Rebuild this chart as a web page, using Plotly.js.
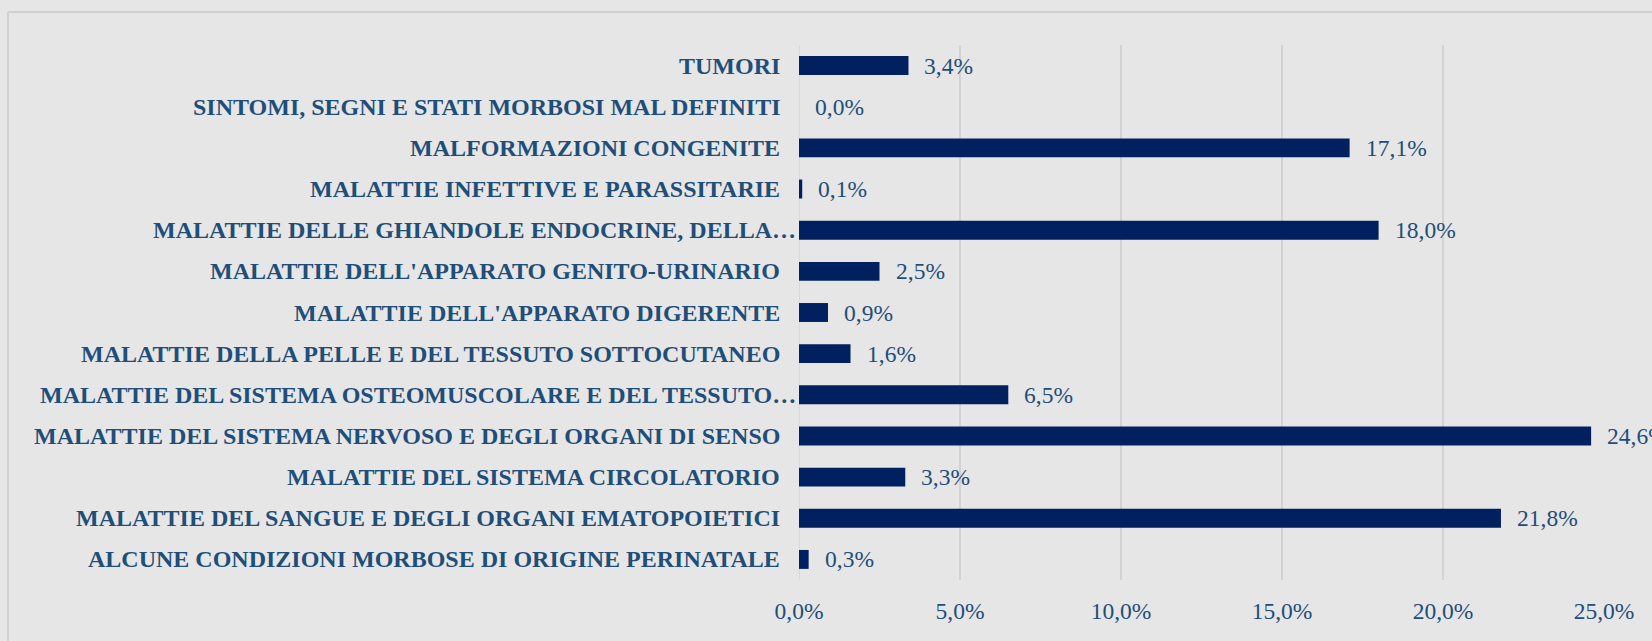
<!DOCTYPE html>
<html>
<head>
<meta charset="utf-8">
<script src="https://cdn.plot.ly/plotly-3.0.1.min.js"></script>
<style>
html,body{margin:0;padding:0;background:#e6e6e6;}
#chart{width:1652px;height:641px;}
</style>
</head>
<body>
<div id="chart"></div>
<script>
// Categories listed bottom -> top
const categories = [
  "ALCUNE CONDIZIONI MORBOSE DI ORIGINE PERINATALE",
  "MALATTIE DEL SANGUE E DEGLI ORGANI EMATOPOIETICI",
  "MALATTIE DEL SISTEMA CIRCOLATORIO",
  "MALATTIE DEL SISTEMA NERVOSO E DEGLI ORGANI DI SENSO",
  "MALATTIE DEL SISTEMA OSTEOMUSCOLARE E DEL TESSUTO…",
  "MALATTIE DELLA PELLE E DEL TESSUTO SOTTOCUTANEO",
  "MALATTIE DELL'APPARATO DIGERENTE",
  "MALATTIE DELL'APPARATO GENITO-URINARIO",
  "MALATTIE DELLE GHIANDOLE ENDOCRINE, DELLA…",
  "MALATTIE INFETTIVE E PARASSITARIE",
  "MALFORMAZIONI CONGENITE",
  "SINTOMI, SEGNI E STATI MORBOSI MAL DEFINITI",
  "TUMORI"
];
const values = [0.003, 0.218, 0.033, 0.246, 0.065, 0.016, 0.009, 0.025, 0.180, 0.001, 0.171, 0.000, 0.034];
const xTicks = [0, 0.05, 0.10, 0.15, 0.20, 0.25];

const labelColor = "#1F4E79";
const barColor = "#002060";
const serif = "Liberation Serif, Times New Roman, serif";

const trace = {
  type: "bar",
  orientation: "h",
  x: values,
  y: categories,
  marker: {color: barColor},
  hoverinfo: "none"
};

const fmt = v => (v * 100).toFixed(1).replace(".", ",") + "%";

const valueLabels = values.map((v, i) => ({
  x: v, y: categories[i], xref: "x", yref: "y",
  text: fmt(v),
  showarrow: false, xanchor: "left", yanchor: "middle", xshift: 14,
  font: {family: serif, size: 23.5, color: labelColor}
}));

const catLabels = categories.map(c => ({
  x: 0, y: c, xref: "x", yref: "y",
  text: "<b>" + c + "</b>",
  showarrow: false, xanchor: "right", yanchor: "middle",
  xshift: c.endsWith("…") ? -1 : -17,
  font: {family: serif, size: 24, color: labelColor}
}));

const W = 1652, H = 641, L = 799, R = 48, T = 45, B = 61;
const pw = W - L - R, ph = H - T - B;
const px = x => (x - L) / pw;
const py = y => (H - B - y) / ph;

const layout = {
  width: W, height: H,
  margin: {l: L, r: R, t: T, b: B, pad: 0},
  paper_bgcolor: "#e6e6e6",
  plot_bgcolor: "rgba(0,0,0,0)",
  separators: ",.",
  showlegend: false,
  bargap: 0.54,
  xaxis: {
    range: [0, 0.25],
    tickvals: xTicks,
    tickformat: ".1%",
    showgrid: true, gridcolor: "#d2d2d2", gridwidth: 1.3,
    zeroline: false, showline: false, ticks: "",
    tickfont: {family: serif, size: 23.5, color: labelColor},
    ticklabelstandoff: 14,
    fixedrange: true
  },
  yaxis: {
    type: "category",
    categoryorder: "array", categoryarray: categories,
    showgrid: false, zeroline: false, showline: false,
    ticks: "", showticklabels: false,
    fixedrange: true
  },
  shapes: [
    {type: "line", xref: "x", yref: "paper", x0: 0, x1: 0, y0: 0, y1: 1, line: {color: "#d2d2d2", width: 1.3}, layer: "below"},
    {type: "line", xref: "paper", yref: "paper", x0: px(8), x1: px(W), y0: py(12), y1: py(12), line: {color: "#d0d0d0", width: 2}},
    {type: "line", xref: "paper", yref: "paper", x0: px(8), x1: px(8), y0: py(12), y1: py(H), line: {color: "#d0d0d0", width: 2}}
  ],
  annotations: catLabels.concat(valueLabels)
};

Plotly.newPlot("chart", [trace], layout, {displayModeBar: false, staticPlot: true});
</script>
</body>
</html>
